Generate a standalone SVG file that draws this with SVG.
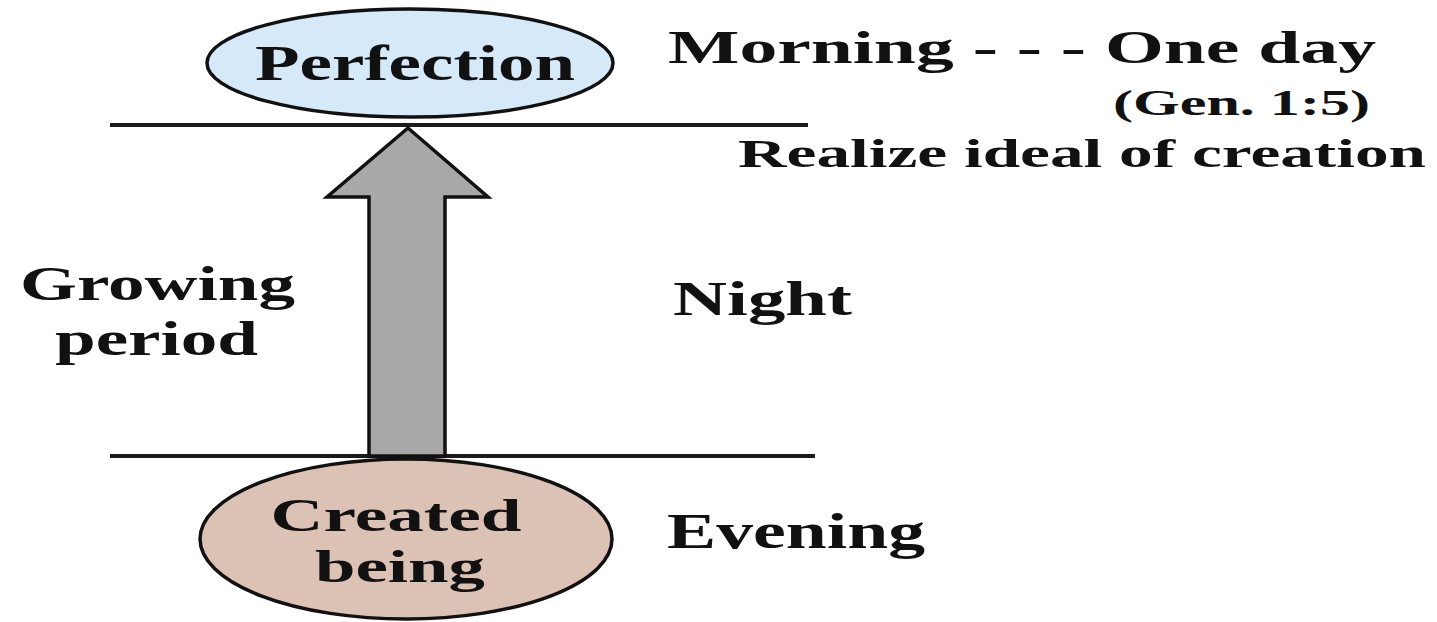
<svg xmlns="http://www.w3.org/2000/svg" width="1437" height="622" viewBox="0 0 1437 622">
<style>
.t{font-family:"Liberation Serif","Times New Roman",serif;font-weight:bold;fill:#111;}
.lvl{stroke:#1a1a1a;stroke-width:4;}
.node{stroke:#111;stroke-width:3.5;}
</style>
<rect width="1437" height="622" fill="#ffffff"/>
<g id="levels">
<line class="lvl" x1="110" y1="125" x2="808" y2="125"/>
<line class="lvl" x1="110" y1="456" x2="815" y2="456"/>
</g>
<g id="connectors">
<polygon points="408,128 488,197 445,197 445,456 369,456 369,197 327,197" fill="#a8a8a8" stroke="#111" stroke-width="3.5" stroke-linejoin="miter"/>
</g>
<g id="perfection">
<ellipse class="node" cx="410" cy="63" rx="203" ry="54" fill="#d6e9f8"/>
<text class="t" x="415" y="80" font-size="50" text-anchor="middle" textLength="320" lengthAdjust="spacingAndGlyphs">Perfection</text>
</g>
<g id="created-being">
<ellipse class="node" cx="406" cy="539" rx="206" ry="80" fill="#dcc1b5"/>
<text class="t" x="396" y="531" font-size="46" text-anchor="middle" textLength="251" lengthAdjust="spacingAndGlyphs">Created</text>
<text class="t" x="400" y="582" font-size="46" text-anchor="middle" textLength="170" lengthAdjust="spacingAndGlyphs">being</text>
</g>
<g id="morning">
<text class="t" x="668" y="63" font-size="47" textLength="708" lengthAdjust="spacingAndGlyphs">Morning - - - One day</text>
<text class="t" x="1113" y="115" font-size="35" textLength="257" lengthAdjust="spacingAndGlyphs">(Gen. 1:5)</text>
<text class="t" x="738" y="167" font-size="41" textLength="688" lengthAdjust="spacingAndGlyphs">Realize ideal of creation</text>
</g>
<g id="growing-period">
<text class="t" x="20" y="300" font-size="48" textLength="275" lengthAdjust="spacingAndGlyphs">Growing</text>
<text class="t" x="55" y="355" font-size="48" textLength="203" lengthAdjust="spacingAndGlyphs">period</text>
</g>
<g id="night">
<text class="t" x="673" y="315" font-size="48" textLength="179" lengthAdjust="spacingAndGlyphs">Night</text>
</g>
<g id="evening">
<text class="t" x="667" y="548" font-size="50" textLength="258" lengthAdjust="spacingAndGlyphs">Evening</text>
</g>
</svg>
